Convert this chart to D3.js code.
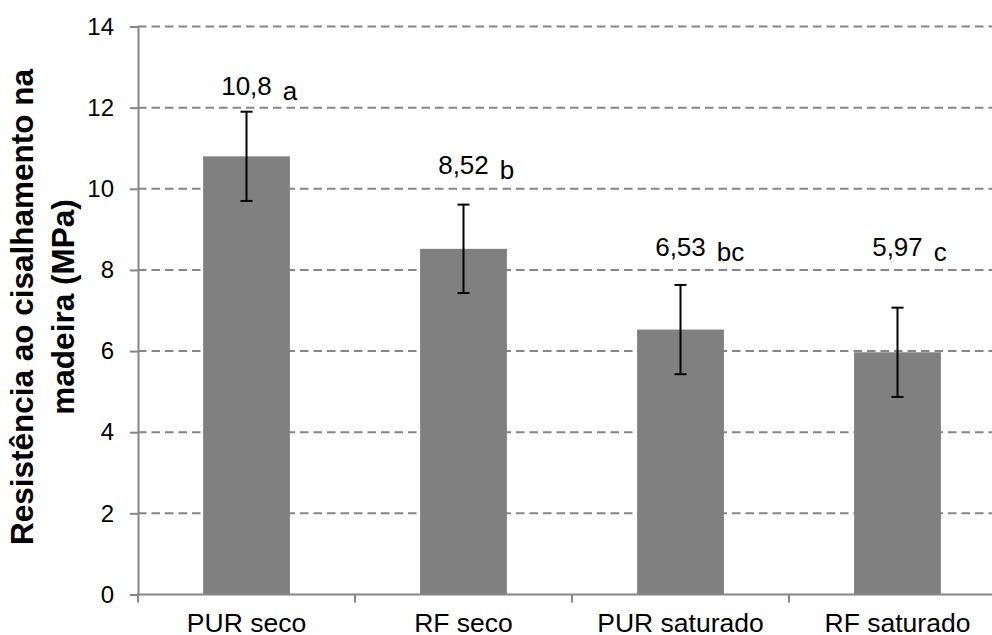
<!DOCTYPE html>
<html>
<head>
<meta charset="utf-8">
<script src="https://cdn.jsdelivr.net/npm/d3@7"></script>
<style>
  body { margin: 0; background: #fff; }
  svg { display: block; font-family: Arial, "Liberation Sans", sans-serif; }
</style>
</head>
<body>
<div id="chart"></div>
<script>
// values
const categories = ["PUR seco", "RF seco", "PUR saturado", "RF saturado"];
const means = [10.8, 8.52, 6.53, 5.97];
const errors = [1.1, 1.09, 1.1, 1.1];
const valueLabels = ["10,8", "8,52", "6,53", "5,97"];
const letters = ["a", "b", "bc", "c"];
// where the labels sit, in MPa
const labelAt = [12.32, 10.37, 8.35, 8.35];
const yTicks = [0, 2, 4, 6, 8, 10, 12, 14];

const W = 992, H = 635;
const svg = d3.select("#chart").append("svg")
  .attr("width", W)
  .attr("height", H);

const x = d3.scaleBand()
  .domain(categories)
  .range([138, 1006])
  .paddingInner(0.6)
  .paddingOuter(0.3);

const y = d3.scaleLinear()
  .domain([0, 14])
  .range([594.5, 26.5]);

// grid
svg.append("g")
  .selectAll("line")
  .data(yTicks.filter(d => d > 0))
  .join("line")
  .attr("x1", 138).attr("x2", W)
  .attr("y1", d => y(d)).attr("y2", d => y(d))
  .attr("stroke", "#868686")
  .attr("stroke-width", 2)
  .attr("stroke-dasharray", "8.5,5");

// bars
svg.append("g")
  .selectAll("rect")
  .data(categories)
  .join("rect")
  .attr("x", d => x(d))
  .attr("width", x.bandwidth())
  .attr("y", (d, i) => y(means[i]))
  .attr("height", (d, i) => y(0) - y(means[i]))
  .attr("fill", "#808080");

// y axis
const yAxis = svg.append("g")
  .attr("transform", "translate(138,0)")
  .call(d3.axisLeft(y).tickValues(yTicks).tickSize(8).tickPadding(16));
yAxis.select(".domain").attr("stroke", "#868686").attr("stroke-width", 2);
yAxis.selectAll(".tick line").attr("stroke", "#868686").attr("stroke-width", 2);
yAxis.selectAll("text")
  .attr("font-size", 24)
  .attr("fill", "#000")
  .attr("font-family", "Arial, 'Liberation Sans', sans-serif");

// x axis
const step = x.step();
const bounds = d3.range(categories.length + 1).map(i => 138 + i * step);
svg.append("line")
  .attr("x1", 137).attr("x2", W)
  .attr("y1", y(0)).attr("y2", y(0))
  .attr("stroke", "#868686").attr("stroke-width", 2);
svg.append("g")
  .selectAll("line")
  .data(bounds)
  .join("line")
  .attr("x1", d => d).attr("x2", d => d)
  .attr("y1", y(0)).attr("y2", y(0) + 8)
  .attr("stroke", "#868686").attr("stroke-width", 2);
svg.append("g")
  .selectAll("text")
  .data(categories)
  .join("text")
  .attr("x", d => x(d) + x.bandwidth() / 2)
  .attr("y", 632)
  .attr("text-anchor", "middle")
  .attr("font-size", 26.5)
  .text(d => d);

// error bars
const err = svg.append("g").attr("stroke", "#000").attr("stroke-width", 2);
categories.forEach((c, i) => {
  const cx = x(c) + x.bandwidth() / 2;
  const top = y(means[i] + errors[i]), bot = y(means[i] - errors[i]);
  err.append("line").attr("x1", cx).attr("x2", cx).attr("y1", top).attr("y2", bot);
  err.append("line").attr("x1", cx - 6).attr("x2", cx + 6).attr("y1", top).attr("y2", top);
  err.append("line").attr("x1", cx - 6).attr("x2", cx + 6).attr("y1", bot).attr("y2", bot);
});

// value labels, centred on the bar, with the letter after them
const labels = svg.append("g");
categories.forEach((c, i) => {
  const cx = x(c) + x.bandwidth() / 2;
  const ly = y(labelAt[i]);
  const num = labels.append("text")
    .attr("x", cx)
    .attr("y", ly)
    .attr("font-size", 26)
    .attr("text-anchor", "middle")
    .text(valueLabels[i]);
  const w = num.node().getComputedTextLength();
  labels.append("text")
    .attr("x", cx + w / 2 + 11)
    .attr("y", ly + 5)
    .attr("font-size", 26)
    .text(letters[i]);
});

// y title
svg.append("text")
  .attr("transform", "translate(33,307) rotate(-90)")
  .attr("text-anchor", "middle")
  .attr("font-size", 31.5)
  .attr("font-weight", "bold")
  .selectAll("tspan")
  .data(["Resistência ao cisalhamento na", "madeira (MPa)"])
  .join("tspan")
  .attr("x", 0)
  .attr("dy", (d, i) => i ? 41 : 0)
  .text(d => d);
</script>
</body>
</html>
